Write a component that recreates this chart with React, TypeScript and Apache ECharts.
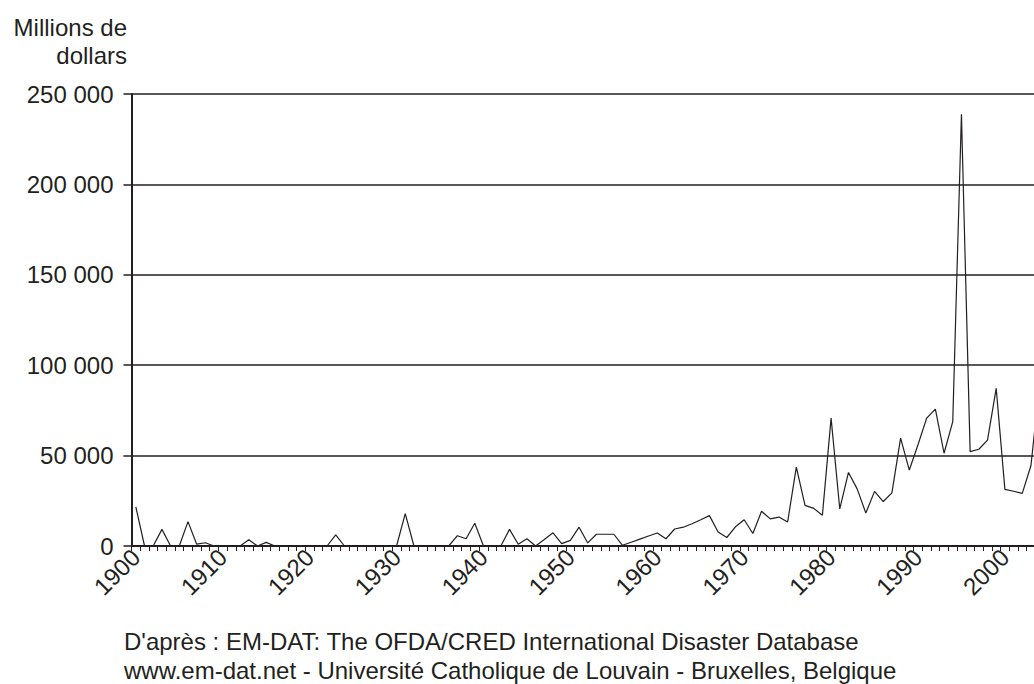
import React, { useEffect, useRef } from "react";
import * as echarts from "echarts";

const years: string[] = Array.from({ length: 105 }, (_, i) => String(1900 + i));

const damages: number[] = [
  // 1900-1909
  21600, 0, 0, 9200, 0, 0, 13500, 1000, 1800, 0,
  // 1910-1919
  0, 0, 0, 3500, 0, 2000, 0, 0, 0, 0,
  // 1920-1929
  0, 0, 0, 6200, 0, 0, 0, 0, 0, 0,
  // 1930-1939
  0, 17900, 0, 0, 0, 0, 0, 5700, 4000, 12600,
  // 1940-1949
  0, 0, 0, 9200, 1000, 4000, 0, 3600, 7300, 1300,
  // 1950-1959
  3100, 10400, 1700, 6500, 6500, 6500, 400, 2100, 3800, 5500,
  // 1960-1969
  7200, 4000, 9400, 10400, 12300, 14500, 16800, 7700, 4700, 10600,
  // 1970-1979
  14500, 6900, 19200, 15000, 16000, 13300, 43600, 22500, 20800, 17000,
  // 1980-1989
  70700, 20500, 40700, 31600, 18200, 30200, 24600, 29400, 59700, 42000,
  // 1990-1999
  56000, 70700, 75700, 51300, 68800, 238800, 52200, 53500, 58600, 87200,
  // 2000-2004
  31300, 30300, 29100, 44500, 90000,
];

const yMin = 0;
const yMax = 250000;
const yStep = 50000;

const unitLines = ["Millions de", "dollars"];
const sourceLines = [
  "D'après : EM-DAT: The OFDA/CRED International Disaster Database",
  "www.em-dat.net - Université Catholique de Louvain - Bruxelles, Belgique",
];

const INK = "#231f20";
const FONT = '"Liberation Sans", Arial, Helvetica, sans-serif';

const fmt = (v: number) => String(v).replace(/\B(?=(\d{3})+(?!\d))/g, " ");

export default function App() {
  const ref = useRef<HTMLDivElement>(null);

  useEffect(() => {
    if (!ref.current) return;
    const chart = echarts.init(ref.current, undefined, { renderer: "svg" });
    chart.setOption({
      animation: false,
      backgroundColor: "#ffffff",
      grid: { left: 131.5, right: 0, top: 94, bottom: 138, containLabel: false },
      xAxis: {
        type: "category",
        data: years,
        boundaryGap: true,
        axisLine: { show: true, lineStyle: { color: INK, width: 2 } },
        axisTick: { show: true, interval: 0, length: 5, lineStyle: { color: INK, width: 1 } },
        axisLabel: {
          interval: 9,
          rotate: 45,
          margin: 7,
          padding: [17, 0, 0, 0],
          color: INK,
          fontSize: 24,
          fontFamily: FONT,
        },
        splitLine: { show: false },
      },
      yAxis: {
        type: "value",
        min: yMin,
        max: yMax,
        interval: yStep,
        axisLine: { show: true, lineStyle: { color: INK, width: 2 } },
        axisTick: { show: true, length: 8, lineStyle: { color: INK, width: 1.5 } },
        axisLabel: {
          margin: 18,
          color: INK,
          fontSize: 24,
          fontFamily: FONT,
          verticalAlign: "middle",
          padding: [0, 0, 12, 0],
          formatter: (v: number) => fmt(v),
        },
        splitLine: { show: true, lineStyle: { color: INK, width: 1.5 } },
      },
      series: [
        {
          type: "line",
          data: damages,
          symbol: "none",
          lineStyle: { color: INK, width: 1.2 },
          clip: true,
        },
      ],
      graphic: [
        {
          type: "text",
          style: { text: unitLines[0], x: 127, y: 27, fill: INK, fontSize: 24, fontFamily: FONT, align: "right", verticalAlign: "middle" },
        },
        {
          type: "text",
          style: { text: unitLines[1], x: 127, y: 55, fill: INK, fontSize: 24, fontFamily: FONT, align: "right", verticalAlign: "middle" },
        },
        {
          type: "text",
          style: { text: sourceLines[0], x: 124, y: 641, fill: INK, fontSize: 24, fontFamily: FONT, align: "left", verticalAlign: "middle" },
        },
        {
          type: "text",
          style: { text: sourceLines[1], x: 124, y: 670, fill: INK, fontSize: 24, fontFamily: FONT, align: "left", verticalAlign: "middle" },
        },
      ],
    });
    return () => chart.dispose();
  }, []);

  return (
    <div
      ref={ref}
      style={{ position: "fixed", left: 0, top: 0, width: 1044, height: 684, background: "#fff" }}
    />
  );
}
